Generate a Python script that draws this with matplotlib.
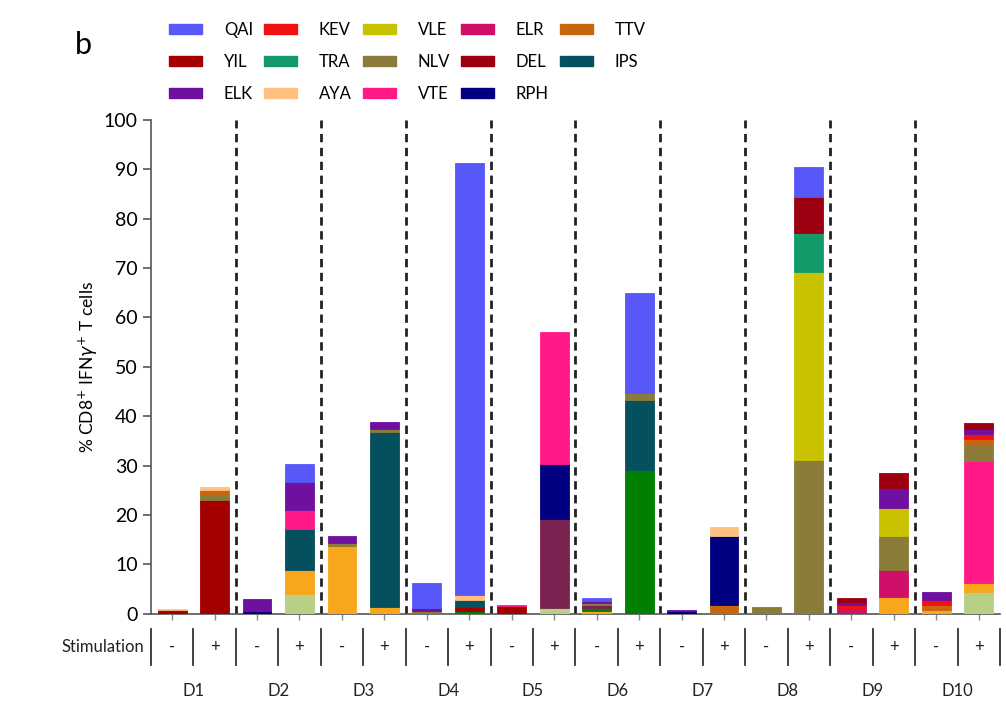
import numpy as np
import matplotlib
matplotlib.use("Agg")
import matplotlib.pyplot as plt
from matplotlib.patches import Patch
import matplotlib.transforms as mtransforms

plt.rcParams['font.family'] = ['Lato', 'DejaVu Sans']

donors = ["D1", "D2", "D3", "D4", "D5", "D6", "D7", "D8", "D9", "D10"]
stimulation = ["-", "+"] * len(donors)

# % CD8+ IFNγ+ T cells per peptide, one value per bar (D1-, D1+, D2-, D2+, ...)
QAI = [0, 0, 0, 3.7, 0, 0, 5.2, 87.5, 0, 0, 0.5, 20.2, 0, 0, 0, 6.1, 0, 0, 0, 0]
KEV = [0, 0, 0, 0, 0, 0, 0, 0, 0, 0, 0, 0, 0, 0, 0, 0, 0.8, 0, 1.2, 1.2]
VLE = [0, 0, 0, 0, 0, 0, 0, 0, 0, 0, 0, 0, 0, 0, 0, 37.9, 0, 5.6, 0, 0]
ELR = [0, 0, 0, 0, 0, 0, 0, 0, 0, 0, 0, 0, 0, 0, 0, 0, 1.0, 5.4, 0, 0]
TTV = [0, 0.8, 0, 0, 0, 0, 0, 0, 0, 0, 0, 0, 0, 1.8, 0, 0, 0, 0, 1.0, 0.9]
YIL = [0.7, 23.1, 0, 0, 0, 0, 0, 0.8, 1.5, 0, 0, 0, 0, 0, 0, 0, 0, 0, 0, 0]
TRA = [0, 0, 0, 0, 0, 0, 0, 0, 0, 0, 0, 0, 0, 0, 0, 8.0, 0, 0, 0, 0]
NLV = [0, 1.2, 0, 0, 0.6, 0.6, 0.5, 0, 0, 0, 0.5, 1.4, 0, 0, 1.4, 31.2, 0, 6.9, 0, 3.4]
DEL = [0, 0, 0, 0, 0, 0, 0, 0, 0, 0, 0, 0, 0, 0, 0, 7.2, 0.7, 3.1, 0, 1.1]
IPS = [0, 0, 0, 8.4, 0, 35.4, 0, 1.5, 0, 0, 0, 14.2, 0, 0, 0, 0, 0, 0, 0, 0]
ELK = [0, 0, 2.5, 5.5, 1.3, 1.5, 0.6, 0, 0, 0, 0.5, 0, 0.3, 0, 0, 0, 0.7, 4.0, 1.6, 1.0]
AYA = [0.3, 0.5, 0, 0, 0, 0, 0, 1.0, 0, 0, 0, 0, 0, 1.7, 0, 0, 0, 0, 0, 0]
VTE = [0, 0, 0, 3.9, 0, 0, 0, 0, 0.3, 26.7, 0, 0, 0, 0, 0, 0, 0, 0, 0, 24.7]
RPH = [0, 0, 0.5, 0, 0, 0, 0, 0, 0, 11.1, 0, 0, 0.5, 14.0, 0, 0, 0, 0, 0, 0]
# further responses drawn without a legend entry
light_green = [0, 0, 0, 4.0, 0, 0, 0, 0, 0, 1.1, 0, 0, 0, 0, 0, 0, 0, 0, 0, 4.5]
orange = [0, 0, 0, 4.8, 13.8, 1.4, 0, 0, 0, 0, 0.6, 0, 0, 0, 0, 0, 0, 3.5, 0.7, 1.8]
green = [0, 0, 0, 0, 0, 0, 0, 0.5, 0, 0, 0.6, 29.1, 0, 0, 0, 0, 0, 0, 0, 0]
maroon = [0, 0, 0, 0, 0, 0, 0, 0, 0, 18.1, 0.5, 0, 0, 0, 0, 0, 0, 0, 0, 0]

series = {
    "QAI": (QAI, "#5858F8"), "YIL": (YIL, "#A50000"), "ELK": (ELK, "#7010A0"),
    "KEV": (KEV, "#F01212"), "TRA": (TRA, "#139A68"), "AYA": (AYA, "#FFC080"),
    "VLE": (VLE, "#C8C200"), "NLV": (NLV, "#8A7B38"), "VTE": (VTE, "#FF1A88"),
    "ELR": (ELR, "#D01068"), "DEL": (DEL, "#9C0010"), "RPH": (RPH, "#000080"),
    "TTV": (TTV, "#C8660E"), "IPS": (IPS, "#05505E"),
    "_light_green": (light_green, "#B8CF86"), "_orange": (orange, "#F8A61C"),
    "_green": (green, "#008000"), "_maroon": (maroon, "#7A2350"),
}

stack_order = ["_light_green", "_orange", "_green", "YIL", "_maroon", "ELR", "IPS",
               "RPH", "VTE", "NLV", "VLE", "TRA", "TTV", "KEV", "AYA", "ELK", "DEL", "QAI"]
order_override = {13: ["TTV", "RPH", "AYA"]}

fig = plt.figure(figsize=(10.06, 7.04), dpi=100)
ax = fig.add_axes([0.150, 0.128, 0.844, 0.702])

n = len(stimulation)
x = np.arange(n)
width = 0.68
for i in x:
    order = order_override.get(i, stack_order)
    bottom = 0.0
    for name in order:
        vals, col = series[name]
        v = vals[i]
        if v > 0:
            ax.bar(i, v, width, bottom=bottom, color=col, edgecolor=col,
                   linewidth=0.6, zorder=3)
            bottom += v

# dashed separators between donors
for k in range(1, len(donors)):
    ax.axvline(2 * k - 0.5, color="#222222", linestyle=(0, (3.0, 2.0)),
               linewidth=2.0, zorder=2)

ax.set_xlim(-0.5, n - 0.5)
ax.set_ylim(0, 100)
ax.set_yticks(np.arange(0, 101, 10))
ax.set_xticks(x)
ax.set_xticklabels([])
ax.tick_params(axis="y", labelsize=14, length=6, color="#555555", width=1.2)
ax.tick_params(axis="x", length=4, color="#888888", width=1)
for s in ["top", "right"]:
    ax.spines[s].set_visible(False)
for s in ["left", "bottom"]:
    ax.spines[s].set_color("#555555")
    ax.spines[s].set_linewidth(1.2)

ax.set_ylabel("% CD8$^{+}$ IFN$\\gamma^{+}$ T cells", fontsize=12.5, labelpad=3)

# stimulation row and donor names below the axis
trans = mtransforms.blended_transform_factory(ax.transData, ax.transAxes)
for b in np.arange(-0.5, n, 1.0):
    ax.plot([b, b], [-0.030, -0.104], transform=trans, color="#333333",
            linewidth=1.3, clip_on=False)
for i, s in enumerate(stimulation):
    ax.text(i, -0.066, s, transform=trans, ha="center", va="center",
            fontsize=12, color="#222222")
ax.text(-0.65, -0.066, "Stimulation", transform=trans, ha="right",
        va="center", fontsize=12, color="#222222")
for k, d in enumerate(donors):
    ax.text(2 * k + 0.5, -0.156, d, transform=trans, ha="center",
            va="center", fontsize=12, color="#222222")

fig.text(0.074, 0.936, "b", fontsize=22, ha="left", va="center")

legend_names = ["QAI", "YIL", "ELK", "KEV", "TRA", "AYA", "VLE", "NLV", "VTE",
                "ELR", "DEL", "RPH", "TTV", "IPS"]
handles = [Patch(facecolor=series[nm][1], edgecolor=series[nm][1]) for nm in legend_names]
fig.legend(handles, legend_names, ncol=5, loc="upper left",
           bbox_to_anchor=(0.153, 0.99), frameon=False, fontsize=12,
           handlelength=2.0, handleheight=0.6, columnspacing=0.65,
           labelspacing=0.95, handletextpad=1.3)

fig.savefig("out.png", dpi=100)
